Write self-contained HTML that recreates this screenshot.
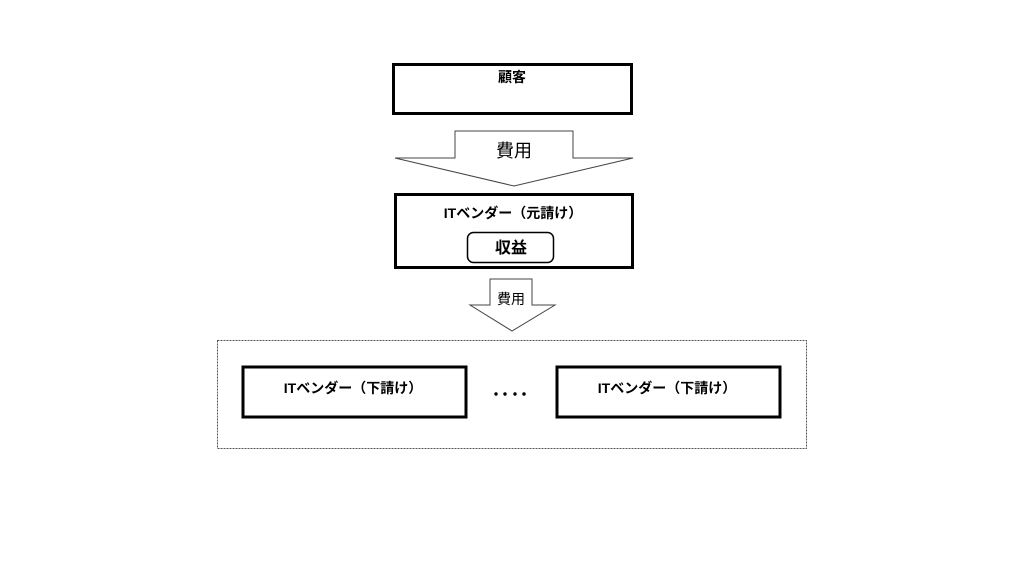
<!DOCTYPE html><html><head><meta charset="utf-8"><style>body{margin:0;background:#fff}</style></head><body>
<svg width="1024" height="576" xmlns="http://www.w3.org/2000/svg" style="display:block;font-family:'Liberation Sans','Noto Sans CJK JP',sans-serif">
<rect x="393.5" y="64.5" width="238" height="49" fill="#fff" stroke="#000" stroke-width="3"/>
<text x="512" y="82" text-anchor="middle" font-size="14" font-weight="bold">顧客</text>
<polygon points="455,131 573,131 573,158 633,158 514,186 395,158 455,158" fill="#fff" stroke="#444" stroke-width="1"/>
<text x="514" y="157" text-anchor="middle" font-size="18">費用</text>
<rect x="395.5" y="194.5" width="237" height="73" fill="#fff" stroke="#000" stroke-width="3"/>
<text x="513" y="218" text-anchor="middle" font-size="14" font-weight="bold">ITベンダー（元請け）</text>
<rect x="467.5" y="232.5" width="86" height="30" rx="6" fill="#fff" stroke="#000" stroke-width="1.5"/>
<text x="511" y="253" text-anchor="middle" font-size="16" font-weight="bold">収益</text>
<polygon points="490,279 532,279 532,305 555,305 512,331 470,305 490,305" fill="#fff" stroke="#444" stroke-width="1"/>
<text x="511" y="304" text-anchor="middle" font-size="14">費用</text>
<rect x="217.5" y="340.5" width="589" height="108" fill="none" stroke="#555" stroke-width="1" stroke-dasharray="2,1"/>
<rect x="243" y="367" width="223" height="50" fill="#fff" stroke="#000" stroke-width="3"/>
<text x="353" y="393" text-anchor="middle" font-size="14" font-weight="bold">ITベンダー（下請け）</text>
<rect x="557" y="367" width="223" height="50" fill="#fff" stroke="#000" stroke-width="3"/>
<text x="667" y="393" text-anchor="middle" font-size="14" font-weight="bold">ITベンダー（下請け）</text>
<g fill="#000"><circle cx="496" cy="394" r="1.7"/><circle cx="505" cy="394" r="1.7"/><circle cx="515" cy="394" r="1.7"/><circle cx="524" cy="394" r="1.7"/></g>
</svg></body></html>
